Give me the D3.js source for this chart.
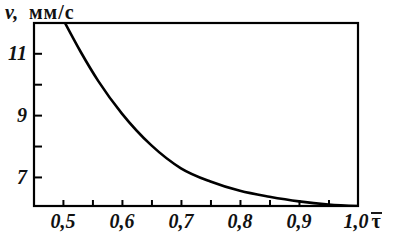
<!DOCTYPE html>
<html><head><meta charset="utf-8">
<script src="https://cdn.jsdelivr.net/npm/d3@7"></script>
<style>body{margin:0;background:#fff}svg{display:block}
text{font-family:"Liberation Serif","DejaVu Serif",serif;font-weight:bold;fill:#111}</style>
</head><body>
<svg id="c" width="403" height="251"></svg>
<script>
const tau = [0.503, 0.53, 0.56, 0.60, 0.65, 0.70, 0.75, 0.80, 0.85, 0.90, 0.95, 1.00];
const vel = [12.0, 11.05, 10.1, 9.05, 8.02, 7.28, 6.85, 6.55, 6.36, 6.21, 6.11, 6.06];
const xTicks = [0.5, 0.55, 0.6, 0.65, 0.7, 0.75, 0.8, 0.85, 0.9, 0.95];
const xTickLabels = ["0,5", "0,6", "0,7", "0,8", "0,9", "1,0"];
const xLabelVals = [0.5, 0.6, 0.7, 0.8, 0.9, 1.0];
const yTicks = [7, 8, 9, 10, 11];
const yLabelVals = [7, 9, 11];

const svg = d3.select("#c");
const L = 34, R = 358, T = 23, B = 206;
const x = d3.scaleLinear().domain([0.451, 1.0]).range([L, R]);
const y = d3.scaleLinear().domain([6.06, 11.98]).range([B, T]);

svg.append("defs").append("clipPath").attr("id","cp").append("rect")
  .attr("x", L).attr("y", T).attr("width", R-L).attr("height", B-T);
const line = d3.line().x((d,i)=>x(tau[i])).y(d=>y(d)).curve(d3.curveMonotoneX);
svg.append("path").attr("d", line(vel)).attr("fill","none").attr("stroke","#000")
  .attr("stroke-width",2.6).attr("clip-path","url(#cp)");

svg.append("rect").attr("x",L).attr("y",T).attr("width",R-L).attr("height",B-T)
  .attr("fill","none").attr("stroke","#000").attr("stroke-width",2.2);

const xAx = d3.axisTop(x).tickValues(xTicks).tickSize(6).tickFormat("");
const gx = svg.append("g").attr("transform",`translate(0,${B})`).call(xAx);
gx.select(".domain").remove();
gx.selectAll("line").attr("stroke","#000").attr("stroke-width",2);

const yAx = d3.axisRight(y).tickValues(yTicks).tickSize(8).tickFormat("");
const gy = svg.append("g").attr("transform",`translate(${L},0)`).call(yAx);
gy.select(".domain").remove();
gy.selectAll("line").attr("stroke","#000").attr("stroke-width",2);

svg.selectAll(".xl").data(xLabelVals).enter().append("text")
  .attr("x", (d,i)=> i===xLabelVals.length-1 ? x(d)-2 : x(d)).attr("y", 228)
  .attr("text-anchor","middle").attr("font-size",20).attr("font-style","italic")
  .text((d,i)=>xTickLabels[i]);

svg.selectAll(".yl").data(yLabelVals).enter().append("text")
  .attr("x", 27).attr("y", d=>y(d)+7).attr("text-anchor","end")
  .attr("font-size",20).attr("font-style","italic").text(d=>String(d));

const t = svg.append("text").attr("x",5).attr("y",19).attr("font-size",20);
t.append("tspan").attr("font-style","italic").text("v,");
t.append("tspan").attr("x",29).attr("letter-spacing",1).text("мм/с");

svg.append("text").attr("x",376).attr("y",228).attr("text-anchor","middle")
  .attr("font-size",20).text("τ");
svg.append("line").attr("x1",371).attr("x2",382).attr("y1",213).attr("y2",213)
  .attr("stroke","#000").attr("stroke-width",1.8);
</script>
</body></html>
